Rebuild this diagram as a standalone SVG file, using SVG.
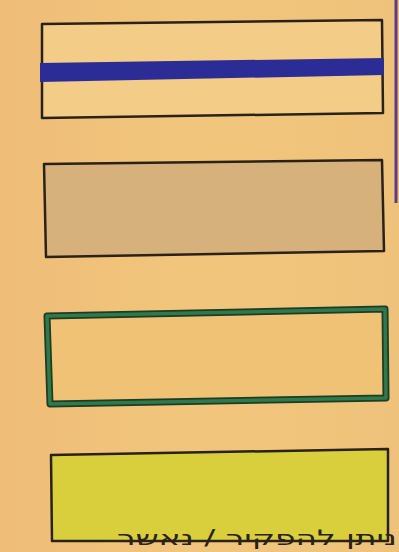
<svg xmlns="http://www.w3.org/2000/svg" width="399" height="552" viewBox="0 0 399 552">
<defs>
<linearGradient id="bg" x1="0" y1="0" x2="1" y2="0">
<stop offset="0" stop-color="#efbd78"/>
<stop offset="0.5" stop-color="#f1c67c"/>
<stop offset="1" stop-color="#eec27a"/>
</linearGradient>
<style>
.box{stroke:#2a2218;stroke-width:2.5;stroke-linejoin:round}
.lbl{font-family:"DejaVu Sans","Liberation Sans",sans-serif;font-size:21px;fill:#2a2218}
</style>
</defs>
<rect x="0" y="0" width="399" height="552" fill="url(#bg)"/>
<line x1="396" y1="0" x2="396" y2="203" stroke="#5a3a8a" stroke-width="3"/>
<g id="node-blue-line">
<polygon class="box" points="42,24 382,20 383,113 42,118" fill="#f3cd88"/>
<polygon points="40,63 384,58 384,75 40,82" fill="#2c2c96"/>
</g>
<g id="node-tan">
<polygon class="box" points="44,164 382,160 384,251 46,257" fill="#d6b17b"/>
</g>
<g id="node-green">
<polygon points="47,316 385,309 386,398 50,404" fill="#f0c275" stroke="#1f3a26" stroke-width="7" stroke-linejoin="round"/>
<polygon points="47,316 385,309 386,398 50,404" fill="none" stroke="#2f7a4a" stroke-width="3.5" stroke-linejoin="round"/>
</g>
<g id="node-yellow">
<polygon class="box" points="51,455 388,449 388,541 52,541" fill="#d9cf3c"/>
</g>
<text class="lbl" x="117" y="545" textLength="280" lengthAdjust="spacingAndGlyphs">ניתן להפקיר / נאשר</text>
</svg>
